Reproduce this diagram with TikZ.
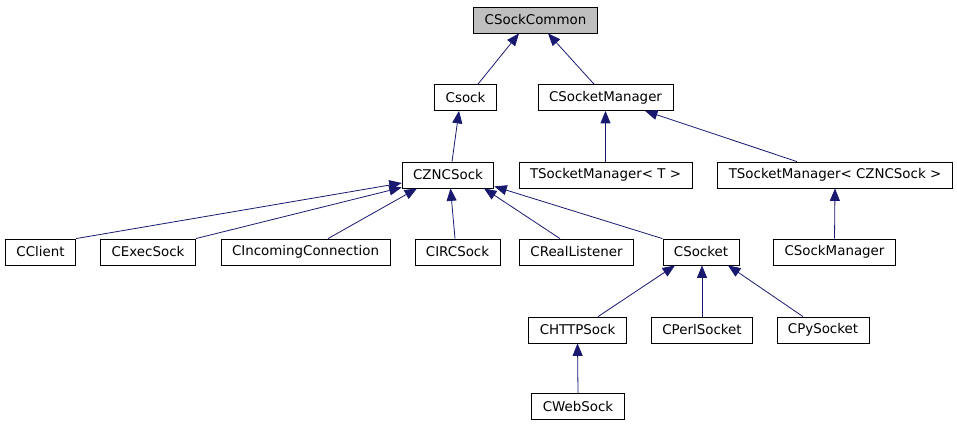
\documentclass[tikz,border=0pt]{standalone}
\usepackage{xcolor}
\usepackage{tikz}
\usepackage{fontspec}
\setmainfont{DejaVu Sans}
\definecolor{edgeblue}{HTML}{191970}
\definecolor{rootgray}{HTML}{BFBFBF}
\usetikzlibrary{arrows.meta,calc}

\begin{document}
\begin{tikzpicture}[x=1pt, y=-1pt,
        cls/.style={draw=black, line width=0.8pt, fill=white, minimum height=26pt, inner xsep=11pt, inner ysep=0pt, font=\fontsize{13.4}{16}\selectfont},
        inh/.style={draw=edgeblue, line width=0.8pt, -{Triangle[length=12.5pt, width=10pt, fill=edgeblue]}}]
        \useasboundingbox (0,0) rectangle (957,427);
        % classes
        \node[cls, fill=rootgray] (csockcommon) at (535.5,20) {CSockCommon};
        \node[cls] (csock) at (465.5,97.5) {Csock};
        \node[cls] (csocketmanager) at (605.5,97.5) {CSocketManager};
        \node[cls] (czncsock) at (448,175) {CZNCSock};
        \node[cls] (tsmt) at (605.5,175) {TSocketManager< T >};
        \node[cls] (tsmznc) at (835,175) {TSocketManager< CZNCSock >};
        \node[cls] (cclient) at (40.5,252) {CClient};
        \node[cls] (cexecsock) at (148,252) {CExecSock};
        \node[cls] (cincoming) at (305.5,252) {CIncomingConnection};
        \node[cls] (circsock) at (457.5,252) {CIRCSock};
        \node[cls] (creallistener) at (576.5,252) {CRealListener};
        \node[cls] (csocket) at (701,252) {CSocket};
        \node[cls] (csockmanager) at (834.5,252) {CSockManager};
        \node[cls] (chttpsock) at (577.5,330) {CHTTPSock};
        \node[cls] (cperlsocket) at (702,330) {CPerlSocket};
        \node[cls] (cpysocket) at (823,330) {CPySocket};
        \node[cls] (cwebsock) at (578,406.5) {CWebSock};
        % inheritance
        \draw[inh] ($(csock.north)+(12.5,0)$) -- ($(csockcommon.south)+(-16.5,0)$);
        \draw[inh] ($(csocketmanager.north)+(-11.5,0)$) -- ($(csockcommon.south)+(12.5,0)$);
        \draw[inh] ($(czncsock.north)+(4,0)$) -- ($(csock.south)+(-6.5,0)$);
        \draw[inh] (tsmt.north) -- (csocketmanager.south);
        \draw[inh] ($(tsmznc.north)+(-38,0)$) -- ($(csocketmanager.south)+(39.5,0)$);
        \draw[inh] (cclient.north east) -- ($(czncsock.west)+(0,8)$);
        \draw[inh] (cexecsock.north east) -- ($(czncsock.south west)+(0,-1)$);
        \draw[inh] ($(cincoming.north)+(22.5,0)$) -- ($(czncsock.south)+(-31,0)$);
        \draw[inh] ($(circsock.north)+(-2.5,0)$) -- ($(czncsock.south)+(2.5,0)$);
        \draw[inh] ($(creallistener.north)+(-16.5,0)$) -- ($(czncsock.south)+(36,0)$);
        \draw[inh] (csocket.north west) -- ($(czncsock.south east)+(0,-2)$);
        \draw[inh] ($(chttpsock.north)+(20.5,0)$) -- ($(csocket.south)+(-26,0)$);
        \draw[inh] (cperlsocket.north) -- ($(csocket.south)+(1,0)$);
        \draw[inh] ($(cpysocket.north)+(-20,0)$) -- ($(csocket.south)+(27,0)$);
        \draw[inh] (cwebsock.north) -- (chttpsock.south);
        \draw[inh] (csockmanager.north) -- (tsmznc.south);
\end{tikzpicture}
\end{document}
